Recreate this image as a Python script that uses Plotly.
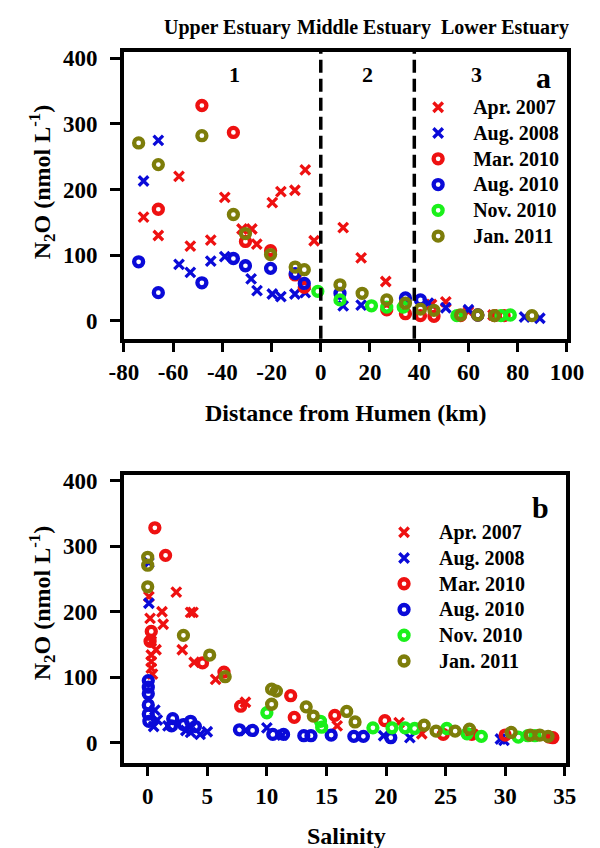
import plotly.graph_objects as go

W, H = 600, 848

# Survey series
series_names = ["Apr. 2007", "Aug. 2008", "Mar. 2010", "Aug. 2010", "Nov. 2010", "Jan. 2011"]
series_colors = ["#ee1111", "#0a0ad8", "#ee1111", "#0a0ad8", "#1af01a", "#7d7d0a"]
series_symbols = ["x-thin", "x-thin", "circle-open", "circle-open", "circle-open", "circle-open"]

# Panel a: distance from Humen (km) vs N2O (nmol/L)
dist_apr07 = [-72, -66, -57.6, -53, -44.7, -39, -32, -28, -26, -19.7, -16.2, -10.5, -6.3, -2.7, 9.1, 16.4, 26.4, 45, 50.8, 60, 70]
n2o_apr07_a = [158, 130, 220, 114, 123, 188, 140, 140, 117, 180, 197, 199, 230, 122, 142, 96, 60, 25, 29, 14, 9]
dist_aug08 = [-72, -66, -57.6, -53, -44.7, -39, -28.3, -25.9, -19.7, -16.2, -10.5, -6.3, 9.1, 16.4, 43.7, 50.8, 60, 82.8, 89]
n2o_aug08_a = [213, 275, 86, 74, 91, 98, 64, 46, 41, 37, 41, 43, 23, 24, 27, 20, 17, 6, 4]
dist_mar10 = [-66, -48.3, -35.5, -30.6, -20.4, -10.4, -6.7, 26.8, 34.4, 40.5, 46, 56.8, 63.8, 70.6, 74.5]
n2o_mar10_a = [170, 328, 287, 121, 107, 70, 51, 17, 11, 8, 7, 8, 9, 8, 8]
dist_aug10 = [-74, -66, -48.3, -35.5, -30.6, -20.4, -10.4, -6.7, 7.8, 34.4, 40.5, 63.8]
n2o_aug10_a = [90, 43, 58, 95, 84, 80, 72, 57, 42, 35, 32, 9]
dist_nov10 = [-1.2, 7.8, 20.6, 26.8, 33.5, 55.3, 73.2, 77]
n2o_nov10_a = [45, 32, 23, 21, 21, 8, 8, 9]
dist_jan11 = [-74, -66, -48.3, -35.5, -30.6, -20.4, -10.4, -6.7, 7.8, 16.8, 26.8, 34.4, 40.5, 46, 56.8, 63.8, 70.6, 85.8]
n2o_jan11_a = [271, 238, 282, 162, 133, 101, 82, 78, 55, 42, 32, 27, 18, 16, 9, 9, 8, 8]

# Panel b: salinity vs N2O (nmol/L)
sal_apr07 = [0.1, 0.2, 0.3, 0.3, 0.3, 0.3, 0.4, 0.7, 1.2, 1.3, 2.4, 3.6, 3.8, 2.9, 3.9, 5.7, 8.2, 15.9, 21.1, 23, 27.3]
n2o_apr07_b = [223, 190, 155, 134, 124, 114, 105, 142, 200, 181, 230, 199, 199, 142, 123, 97, 62, 26, 31, 14, 13]
sal_aug08 = [0.1, 0.1, 0.6, 0.5, 0.8, 1.7, 3.2, 3.6, 4.4, 5, 8.2, 10, 11.3, 19.8, 22, 29.6, 29.9]
n2o_aug08_b = [275, 213, 50, 25, 35, 26, 19, 16, 13, 17, 19, 23, 12, 11, 8, 6, 4]
sal_mar10 = [0.6, 1.5, 0.3, 0.2, 4.6, 6.4, 7.8, 12, 12.3, 15.7, 19.9, 24.8, 27.2, 30, 33.7, 34]
n2o_mar10_b = [328, 286, 170, 155, 122, 108, 56, 72, 39, 42, 34, 13, 13, 12, 9, 8]
sal_aug10 = [0.05, 0.05, 0.05, 0.05, 0.05, 0.1, 2.1, 2, 3, 3.6, 4, 7.7, 8.8, 10.5, 11.4, 13.1, 13.7, 15.4, 17.3, 18.1, 20.4]
n2o_aug10_b = [95, 85, 75, 58, 44, 33, 37, 26, 28, 33, 25, 20, 19, 13, 13, 11, 11, 12, 10, 10, 8]
sal_nov10 = [10, 14.5, 14.6, 18.9, 20.5, 21.6, 22.4, 25.1, 26.8, 28, 31.1, 31.9, 32.5]
n2o_nov10_b = [46, 33, 24, 23, 23, 23, 22, 22, 14, 10, 9, 11, 11]
sal_jan11 = [0, 0, 0, 3, 5.2, 6.5, 10.4, 10.8, 10.4, 13.3, 13.9, 16.7, 17.4, 23.2, 24.2, 25.8, 27, 30.5, 32.1, 32.9, 33.6]
n2o_jan11_b = [283, 271, 238, 164, 134, 101, 82, 79, 59, 55, 41, 48, 32, 27, 18, 18, 21, 16, 12, 12, 10]

# Axis ticks
dist_ticks = [-80, -60, -40, -20, 0, 20, 40, 60, 80, 100]
sal_ticks = [0, 5, 10, 15, 20, 25, 30, 35]
n2o_ticks = [0, 100, 200, 300, 400]

# Estuary segment boundaries along the river (km)
segment_bounds = [0, 38]

dist_x = [dist_apr07, dist_aug08, dist_mar10, dist_aug10, dist_nov10, dist_jan11]
dist_y = [n2o_apr07_a, n2o_aug08_a, n2o_mar10_a, n2o_aug10_a, n2o_nov10_a, n2o_jan11_a]
sal_x = [sal_apr07, sal_aug08, sal_mar10, sal_aug10, sal_nov10, sal_jan11]
sal_y = [n2o_apr07_b, n2o_aug08_b, n2o_mar10_b, n2o_aug10_b, n2o_nov10_b, n2o_jan11_b]

FONT = "Liberation Serif"


def px(x):
    return x / W


def py(y):
    return 1 - y / H


def marker_for(i):
    if series_symbols[i].startswith("x"):
        return dict(symbol=series_symbols[i], size=9.5, color=series_colors[i],
                    line=dict(color=series_colors[i], width=3.3))
    # thick rings with a small open centre
    return dict(symbol=series_symbols[i], size=9, color=series_colors[i],
                line=dict(color=series_colors[i], width=4.3))


def legend_name(name):
    # compact rows: legend row height follows the legend font, the entry text is drawn larger
    return '<span style="font-size:20px">' + name + '</span>'


fig = go.Figure()
for i, name in enumerate(series_names):
    fig.add_trace(go.Scatter(x=dist_x[i], y=dist_y[i], mode="markers", name=legend_name(name),
                             marker=marker_for(i), xaxis="x", yaxis="y", legend="legend"))
for i, name in enumerate(series_names):
    fig.add_trace(go.Scatter(x=sal_x[i], y=sal_y[i], mode="markers", name=legend_name(name),
                             marker=marker_for(i), xaxis="x2", yaxis="y2", legend="legend2"))

axis_style = dict(showline=True, linewidth=3.5, linecolor="black", mirror=True,
                  ticks="outside", ticklen=10, tickwidth=3, tickcolor="black",
                  showgrid=False, zeroline=False,
                  tickfont=dict(family=FONT, size=23, color="black", weight="bold"))


def ticks(values):
    # plain hyphen for negative labels
    return dict(tickmode="array", tickvals=values, ticktext=[str(v) for v in values])


legend_style = dict(font=dict(family=FONT, size=17.5, color="black", weight="bold"),
                    bgcolor="rgba(0,0,0,0)", tracegroupgap=0, itemwidth=60,
                    xanchor="left", yanchor="top")

fig.update_layout(
    width=W, height=H,
    margin=dict(l=0, r=0, t=0, b=0),
    plot_bgcolor="white", paper_bgcolor="white",
    font=dict(family=FONT, color="black"),
    xaxis=dict(domain=[px(115), px(583)], range=[-80, 100], anchor="y",
               **ticks(dist_ticks), **axis_style),
    yaxis=dict(domain=[py(335), py(46)], range=[-27, 410], anchor="x", ticklabelstandoff=8,
               **ticks(n2o_ticks), **axis_style),
    xaxis2=dict(domain=[px(115), px(582)], range=[-2, 35.1], anchor="y2",
                **ticks(sal_ticks), **axis_style),
    yaxis2=dict(domain=[py(762), py(472)], range=[-30, 409], anchor="x2", ticklabelstandoff=8,
                **ticks(n2o_ticks), **axis_style),
    legend=dict(x=px(410), y=py(84), **legend_style),
    legend2=dict(x=px(374), y=py(512), **legend_style),
)

# Segment boundary lines
for xb in segment_bounds:
    fig.add_shape(type="line", xref="x", yref="y domain", x0=xb, x1=xb, y0=0, y1=1,
                  line=dict(color="black", width=3.5, dash="13px,6px"))


def label(text, x, y, size, angle=0):
    fig.add_annotation(text=text, x=px(x), y=py(y), xref="paper", yref="paper",
                       showarrow=False, textangle=angle, xanchor="center", yanchor="middle",
                       font=dict(family=FONT, size=size, color="black", weight="bold"))


label("Upper Estuary", 224, 22, 20)
label("Middle Estuary", 369, 22, 20)
label("Lower Estuary", 518, 22, 20)
label("1", 232, 69, 22)
label("2", 372, 69, 22)
label("3", 488, 69, 22)
label("a", 558, 72, 30)
label("b", 555, 505, 30)
ytitle = "N<sub>2</sub>O (nmol L<sup>-1</sup>)"
label(ytitle, 28, 178, 24, -90)
label(ytitle, 28, 602, 24, -90)
label("Distance from Humen (km)", 350, 410, 24)
label("Salinity", 350, 836, 24)

fig.write_html("out.html")
